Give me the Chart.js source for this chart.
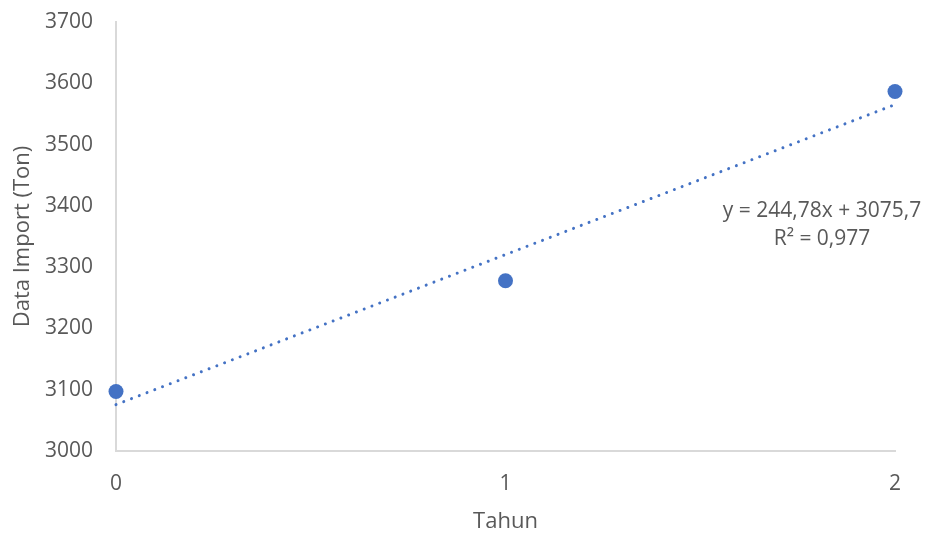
<!DOCTYPE html>
<html>
<head>
<meta charset="utf-8">
<script src="https://cdn.jsdelivr.net/npm/chart.js@4/dist/chart.umd.min.js"></script>
<style>
  html, body { margin: 0; padding: 0; background: #ffffff; }
  #wrap { width: 925px; height: 536px; }
</style>
</head>
<body>
<div id="wrap"><canvas id="chart" width="925" height="536"></canvas></div>
<script>
// Yearly import observations
const years = [0, 1, 2];
const importTon = [3097, 3277.9, 3586.6];

// Linear trend fitted to the series
const trendSlope = 244.78;
const trendIntercept = 3075.7;
const trendR2 = 0.977;

const yTicks = [3000, 3100, 3200, 3300, 3400, 3500, 3600, 3700];
const xTicks = [0, 1, 2];

const textColor = '#595959';
const markColor = '#4472C4';
const fontFamily = '"Open Sans", "Liberation Sans", sans-serif';

const fmt = (v) => String(v).replace('.', ',');

const trendPoints = [xTicks[0], xTicks[xTicks.length - 1]].map(x => ({ x: x, y: trendIntercept + trendSlope * x }));

// Equation and R² label next to the trend line
const equationLabel = {
  id: 'equationLabel',
  afterDatasetsDraw(chart) {
    const ctx = chart.ctx;
    const a = chart.chartArea;
    ctx.save();
    ctx.fillStyle = textColor;
    ctx.font = '21px ' + fontFamily;
    ctx.textAlign = 'center';
    ctx.textBaseline = 'middle';
    const cx = a.right - 73;
    ctx.fillText('y = ' + fmt(trendSlope) + 'x + ' + fmt(trendIntercept), cx, 211);
    ctx.fillText('R\u00B2 = ' + fmt(trendR2), cx, 239);
    ctx.restore();
  }
};

new Chart(document.getElementById('chart'), {
  type: 'scatter',
  data: {
    datasets: [
      {
        label: 'Data Import',
        data: years.map((x, i) => ({ x: x, y: importTon[i] })),
        backgroundColor: markColor,
        borderColor: markColor,
        pointRadius: 7.5,
        pointHoverRadius: 7.5,
        borderWidth: 0,
        clip: false,
        order: 0
      },
      {
        type: 'line',
        label: 'Linear (Data Import)',
        data: trendPoints,
        borderColor: markColor,
        borderWidth: 3,
        borderDash: [0.01, 8.3],
        borderCapStyle: 'round',
        pointRadius: 0,
        fill: false,
        clip: false,
        order: 1
      }
    ]
  },
  options: {
    responsive: false,
    animation: false,
    layout: { padding: { top: 22, right: 30, left: 0, bottom: 0 } },
    plugins: {
      legend: { display: false },
      tooltip: { enabled: false }
    },
    scales: {
      x: {
        type: 'linear',
        min: xTicks[0],
        max: xTicks[xTicks.length - 1],
        afterBuildTicks: (s) => { s.ticks = xTicks.map(v => ({ value: v })); },
        afterFit: (s) => { s.height = 85; s.paddingLeft = 0; s.paddingRight = 0; },
        ticks: { color: textColor, font: { family: fontFamily, size: 21 }, padding: 20, callback: (v) => String(v) },
        grid: { display: false, drawTicks: false },
        border: { display: true, color: '#d9d9d9', width: 2 },
        title: { display: true, text: 'Tahun', color: textColor, font: { family: fontFamily, size: 22 }, padding: { top: 0, bottom: 1 } }
      },
      y: {
        min: yTicks[0],
        max: yTicks[yTicks.length - 1],
        afterBuildTicks: (s) => { s.ticks = yTicks.map(v => ({ value: v })); },
        afterFit: (s) => { s.width = 116; s.paddingTop = 0; s.paddingBottom = 0; },
        ticks: { color: textColor, font: { family: fontFamily, size: 21 }, padding: 23, callback: (v) => String(v) },
        grid: { display: false, drawTicks: false },
        border: { display: true, color: '#d9d9d9', width: 2 },
        title: { display: true, text: 'Data Import (Ton)', color: textColor, font: { family: fontFamily, size: 22 }, padding: { top: 10, bottom: 0 } }
      }
    }
  },
  plugins: [equationLabel]
});
</script>
</body>
</html>
